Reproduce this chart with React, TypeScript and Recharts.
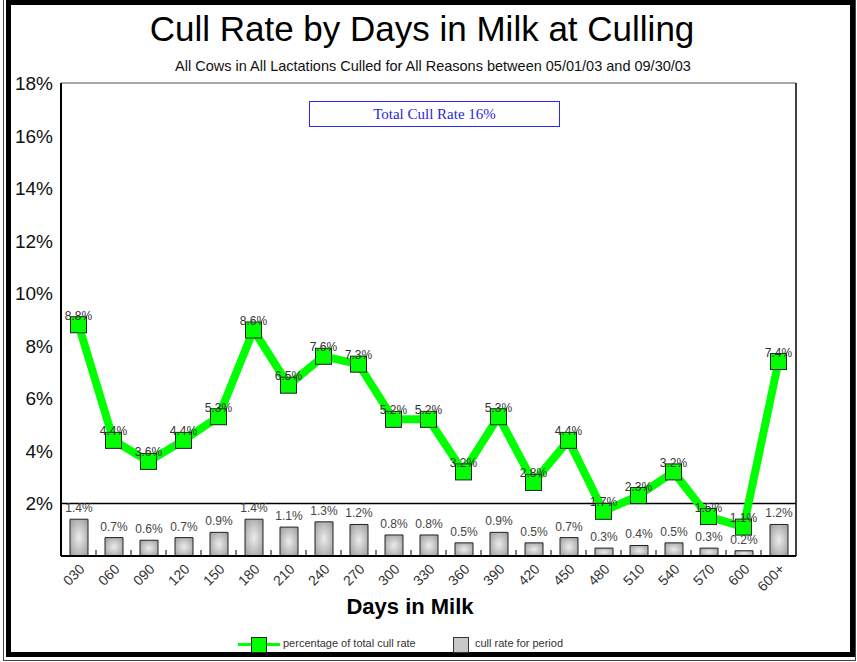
import React from "react";
import {
  ComposedChart,
  Bar,
  Line,
  XAxis,
  YAxis,
  CartesianGrid,
  ReferenceLine,
  LabelList,
} from "recharts";

const categories = ["030", "060", "090", "120", "150", "180", "210", "240", "270", "300", "330", "360", "390", "420", "450", "480", "510", "540", "570", "600", "600+"];
const pctOfTotal = [8.8, 4.4, 3.6, 4.4, 5.3, 8.6, 6.5, 7.6, 7.3, 5.2, 5.2, 3.2, 5.3, 2.8, 4.4, 1.7, 2.3, 3.2, 1.5, 1.1, 7.4];
const periodRate = [1.4, 0.7, 0.6, 0.7, 0.9, 1.4, 1.1, 1.3, 1.2, 0.8, 0.8, 0.5, 0.9, 0.5, 0.7, 0.3, 0.4, 0.5, 0.3, 0.2, 1.2];
const yTicks = [2, 4, 6, 8, 10, 12, 14, 16, 18];

const FONT = "'Liberation Sans', Arial, sans-serif";
const BAND = 35; // width of one category slot, used for the small boundary ticks

const data = categories.map((c, i) => ({ dim: c, pct: pctOfTotal[i], rate: periodRate[i] }));

// rotated x labels + small tick marks between categories
function XTick(props: any) {
  const { x, y, payload, index } = props;
  const last = index === categories.length - 1;
  return (
    <g>
      {!last && <line x1={x + BAND / 2} x2={x + BAND / 2} y1={y} y2={y - 6} stroke="#000" strokeWidth={1} />}
      <text
        x={x + 7}
        y={y + 14}
        transform={`rotate(-45, ${x + 7}, ${y + 14})`}
        textAnchor="end"
        fontSize={14}
        fill="#333"
        fontFamily={FONT}
      >
        {payload.value}
      </text>
    </g>
  );
}

function YTick(props: any) {
  const { x, y, payload, anchor } = props;
  return (
    <text x={x} y={y + 7} textAnchor={anchor} fontSize={19} fill="#111" fontFamily={FONT}>
      {payload.value}%
    </text>
  );
}

function SquareDot(props: any) {
  const { cx, cy } = props;
  if (cx == null || cy == null) return null;
  return <rect x={cx - 8} y={cy - 8} width={16} height={16} fill="#00ff00" stroke="#222" strokeWidth={1} />;
}

function LineLabel(props: any) {
  const { x, y, value } = props;
  return (
    <text x={x} y={y - 5} textAnchor="middle" fontSize={12} fill="#333" fontFamily={FONT}>
      {value}%
    </text>
  );
}

function BarLabel(props: any) {
  const { x, y, width, value } = props;
  return (
    <text x={x + width / 2} y={y - 7} textAnchor="middle" fontSize={12} fill="#444" fontFamily={FONT}>
      {value}%
    </text>
  );
}

export default function App() {
  return (
    <div style={{ position: "absolute", left: 0, top: 0, width: 857, height: 662, background: "#fff", fontFamily: FONT }}>
      {/* double frame */}
      <div style={{ position: "absolute", left: 3, top: -2, right: 1, bottom: 1, border: "1px solid #444" }} />
      <div style={{ position: "absolute", left: 6, top: 0, right: 2, bottom: 5, border: "5px solid #000" }} />

      <div style={{ position: "absolute", left: 0, width: 844, top: 9, textAlign: "center", fontSize: 35, color: "#000" }}>
        Cull Rate by Days in Milk at Culling
      </div>
      <div style={{ position: "absolute", left: 0, width: 866, top: 58, textAlign: "center", fontSize: 14.5, color: "#111" }}>
        All Cows in All Lactations Culled for All Reasons between 05/01/03 and 09/30/03
      </div>

      <ComposedChart
        width={857}
        height={662}
        data={data}
        margin={{ top: 83, right: 0, bottom: 0, left: 0 }}
        style={{ position: "absolute", left: 0, top: 0 }}
      >
        <defs>
          <radialGradient id="barGrad" cx="50%" cy="50%" r="70%">
            <stop offset="0%" stopColor="#ececec" />
            <stop offset="100%" stopColor="#9a9a9a" />
          </radialGradient>
        </defs>
        <CartesianGrid horizontal vertical={false} stroke="#8a8a8a" strokeWidth={1.5} />
        <XAxis
          dataKey="dim"
          height={106}
          tickLine={false}
          tickSize={0}
          tickMargin={0}
          axisLine={{ stroke: "#000", strokeWidth: 2 }}
          tick={<XTick />}
          interval={0}
        />
        <YAxis
          yAxisId="left"
          width={61}
          domain={[0, 18]}
          ticks={yTicks}
          tickLine={false}
          tickSize={0}
          tickMargin={8}
          axisLine={{ stroke: "#000", strokeWidth: 2 }}
          tick={<YTick anchor="end" />}
        />
        <YAxis
          yAxisId="right"
          orientation="right"
          width={61}
          domain={[0, 18]}
          ticks={yTicks}
          tickLine={false}
          tickSize={0}
          tickMargin={7}
          axisLine={{ stroke: "#000", strokeWidth: 1.5 }}
          tick={<YTick anchor="start" />}
        />
        <ReferenceLine yAxisId="left" y={2} stroke="#000" strokeWidth={1.5} />
        <Bar yAxisId="left" dataKey="rate" barSize={18} fill="url(#barGrad)" stroke="#222" strokeWidth={1} isAnimationActive={false}>
          <LabelList dataKey="rate" content={<BarLabel />} />
        </Bar>
        <Line
          yAxisId="left"
          dataKey="pct"
          type="linear"
          stroke="#00ff00"
          strokeWidth={8}
          dot={<SquareDot />}
          activeDot={false}
          isAnimationActive={false}
        >
          <LabelList dataKey="pct" content={<LineLabel />} />
        </Line>
      </ComposedChart>

      <div
        style={{
          position: "absolute",
          left: 309,
          top: 101,
          width: 249,
          height: 24,
          border: "1px solid #2828f0",
          color: "#2828e0",
          fontFamily: "'Liberation Serif', 'Times New Roman', serif",
          fontSize: 15,
          lineHeight: "24px",
          textAlign: "center",
          background: "#fff",
        }}
      >
        Total Cull Rate 16%
      </div>

      <div style={{ position: "absolute", left: 0, width: 820, top: 594, textAlign: "center", fontSize: 22, fontWeight: "bold", color: "#000" }}>
        Days in Milk
      </div>

      {/* legend */}
      <div style={{ position: "absolute", left: 238, top: 643, width: 42, height: 3, background: "#00ff00" }} />
      <div style={{ position: "absolute", left: 251, top: 637, width: 14, height: 14, background: "#00ff00", border: "1px solid #222" }} />
      <div style={{ position: "absolute", left: 283, top: 637, fontSize: 11, color: "#333" }}>percentage of total cull rate</div>
      <div style={{ position: "absolute", left: 453, top: 637, width: 14, height: 14, background: "#c8c8c8", border: "1px solid #333" }} />
      <div style={{ position: "absolute", left: 475, top: 637, fontSize: 11, color: "#333" }}>cull rate for period</div>
    </div>
  );
}
